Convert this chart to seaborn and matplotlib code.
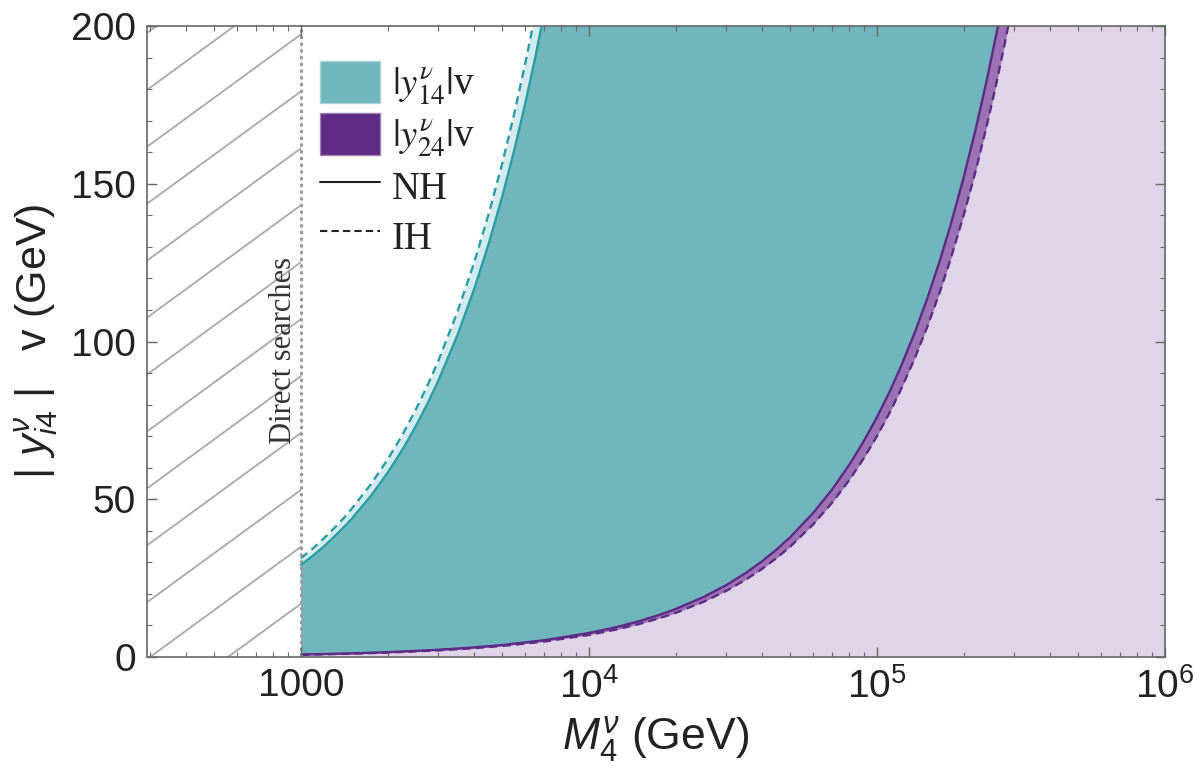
import numpy as np
import pandas as pd
import matplotlib
matplotlib.use('Agg')
import matplotlib.pyplot as plt
import seaborn as sns
from matplotlib.patches import Rectangle, Patch
from matplotlib.lines import Line2D
from matplotlib.ticker import FixedLocator, FuncFormatter, LogLocator, MultipleLocator, NullFormatter

# |y14| v bounds (teal), NH solid / IH dashed
m_y14_nh = [1000, 1100, 1200, 1300, 1400, 1500, 1750, 2000, 2250, 2500, 2750, 3000,
            3500, 4000, 4500, 5000, 5500, 6000, 6500, 7000, 7500]
y14_nh = [29.2, 32.1, 35.0, 38.0, 40.9, 43.8, 51.1, 58.4, 65.7, 73.0, 80.3, 87.6,
          102.2, 116.8, 131.4, 146.0, 160.6, 175.2, 189.8, 204.4, 219.0]
m_y14_ih = [1000, 1100, 1200, 1300, 1400, 1500, 1750, 2000, 2250, 2500, 2750, 3000,
            3500, 4000, 4500, 5000, 5500, 6000, 6500, 7000]
y14_ih = [31.3, 34.4, 37.6, 40.7, 43.8, 47.0, 54.8, 62.6, 70.4, 78.3, 86.1, 93.9,
          109.6, 125.2, 140.9, 156.5, 172.2, 187.8, 203.5, 219.1]

# |y24| v bounds (purple), NH solid / IH dashed
m_y24_nh = [1000, 1500, 2000, 3000, 4000, 5000, 7000, 1e4, 1.25e4, 1.5e4, 1.75e4, 2e4,
            2.5e4, 3e4, 3.5e4, 4e4, 4.5e4, 5e4, 6e4, 7e4, 8e4, 9e4, 1e5, 1.1e5, 1.2e5,
            1.35e5, 1.5e5, 1.65e5, 1.8e5, 2e5, 2.2e5, 2.4e5, 2.6e5, 2.8e5]
y24_nh = [0.76, 1.14, 1.52, 2.28, 3.04, 3.8, 5.32, 7.6, 9.5, 11.4, 13.3, 15.2,
          19.0, 22.8, 26.6, 30.4, 34.2, 38.0, 45.6, 53.2, 60.8, 68.4, 76.0, 83.6, 91.2,
          102.6, 114.0, 125.4, 136.8, 152.0, 167.2, 182.4, 197.6, 212.8]
m_y24_ih = [1000, 1500, 2000, 3000, 4000, 5000, 7000, 1e4, 1.25e4, 1.5e4, 1.75e4, 2e4,
            2.5e4, 3e4, 3.5e4, 4e4, 4.5e4, 5e4, 6e4, 7e4, 8e4, 9e4, 1e5, 1.1e5, 1.2e5,
            1.35e5, 1.5e5, 1.65e5, 1.8e5, 2e5, 2.2e5, 2.4e5, 2.6e5, 2.8e5, 3e5]
y24_ih = [0.70, 1.05, 1.40, 2.10, 2.80, 3.50, 4.90, 7.0, 8.75, 10.5, 12.25, 14.0,
          17.5, 21.0, 24.5, 28.0, 31.5, 35.0, 42.0, 49.0, 56.0, 63.0, 70.0, 77.0, 84.0,
          94.5, 105.0, 115.5, 126.0, 140.0, 154.0, 168.0, 182.0, 196.0, 210.0]

direct_limit = 1000
x_min, x_max = 292, 1e6
y_max = 200

teal_line = '#2a9ca3'
teal_fill = '#72b6bd'
teal_light = '#d3ebee'
purple_line = '#5a2a85'
purple_band = '#9b73b4'
purple_dark = '#5e2a83'
lavender = '#e0d5e8'

sns.set_theme(style='ticks')
plt.rcParams['font.family'] = ['Liberation Sans', 'DejaVu Sans']
plt.rcParams['mathtext.fontset'] = 'custom'
plt.rcParams['mathtext.rm'] = 'Liberation Sans'
plt.rcParams['mathtext.it'] = 'Liberation Sans:italic'
plt.rcParams['mathtext.bf'] = 'Liberation Sans:bold'

fig = plt.figure(figsize=(12, 7.84), dpi=100)
ax = fig.add_axes([0.1225, 0.162, 0.8483, 0.8048])
ax.set_xscale('log')
ax.set_xlim(x_min, x_max)
ax.set_ylim(0, y_max)

# filled regions, back to front
ax.axvspan(direct_limit, x_max, color=lavender, lw=0, zorder=1)
ax.fill_between(m_y24_ih, y24_ih, y_max, color=purple_band, lw=0, zorder=1.2)
ax.fill_between(m_y24_nh, y24_nh, y_max, color=teal_fill, lw=0, zorder=1.4)
ax.fill_between(m_y14_nh, y14_nh, y_max, color=teal_light, lw=0, zorder=1.6)
ax.fill_between(m_y14_ih, y14_ih, y_max, color='white', lw=0, zorder=1.8)

# boundary curves
curves = [
    (m_y14_nh, y14_nh, teal_line, '-'),
    (m_y14_ih, y14_ih, teal_line, (0, (3.5, 2.2))),
    (m_y24_nh, y24_nh, purple_line, '-'),
    (m_y24_ih, y24_ih, purple_line, (0, (3.5, 2.2))),
]
for m, y, c, ls in curves:
    df = pd.DataFrame({'M': m, 'y': y})
    sns.lineplot(data=df, x='M', y='y', ax=ax, color=c, lw=1.7, linestyle=ls,
                 estimator=None, sort=False, zorder=3)

# hatched excluded region
clip = Rectangle((x_min, 0), direct_limit - x_min, y_max, transform=ax.transData,
                 facecolor='none', edgecolor='none')
ax.add_patch(clip)
slope = 1.178
for k in range(-12, 3):
    x0 = 0.003 + k * 0.0766
    ln, = ax.plot([x0, x0 + 1], [0, slope], transform=ax.transAxes,
                  color='#a8a8a8', lw=1.3, zorder=2)
    ln.set_clip_path(clip)

ax.axvline(direct_limit, color='#9a9a9a', ls=(0, (1, 1.2)), lw=2.2, zorder=4)
ax.annotate('Direct searches', xy=(direct_limit, 97), xytext=(-2, 0),
            textcoords='offset points', rotation=90, ha='right', va='center',
            family='Liberation Serif', fontsize=22, color='#333333', zorder=5)

# axes styling
ax.xaxis.set_major_locator(FixedLocator([1e3, 1e4, 1e5, 1e6]))
ax.xaxis.set_minor_locator(LogLocator(base=10, subs=np.arange(2, 10)))
ax.xaxis.set_major_formatter(FuncFormatter(
    lambda v, p: '1000' if v == 1000 else r'$10^{%d}$' % round(np.log10(v))))
ax.xaxis.set_minor_formatter(NullFormatter())
ax.yaxis.set_major_locator(MultipleLocator(50))
ax.yaxis.set_minor_locator(MultipleLocator(10))
ax.tick_params(which='both', direction='in', top=True, right=True,
               color='#666666', labelcolor='#222222')
ax.tick_params(which='major', length=7, width=1, labelsize=28, pad=8)
ax.tick_params(which='minor', length=3.5, width=0.8)
for sp in ax.spines.values():
    sp.set_color('#666666')
    sp.set_linewidth(1.2)
    sp.set_zorder(10)
ax.xaxis.set_zorder(10)
ax.yaxis.set_zorder(10)

ax.set_xlabel(r'$M_4^{\nu}$ (GeV)', fontsize=32, color='#222222', labelpad=6)
ax.set_ylabel(r'$|\ y^{\nu}_{i4}\ |$   v (GeV)', fontsize=31, color='#222222', labelpad=8)

handles = [
    Patch(facecolor=teal_fill, edgecolor='#a8d3d6', label=r'$|y^{\nu}_{14}|$v'),
    Patch(facecolor=purple_dark, edgecolor='#9b80b0', label=r'$|y^{\nu}_{24}|$v'),
    Line2D([], [], color='#222222', lw=1.5, label='NH'),
    Line2D([], [], color='#222222', lw=1.5, ls=(0, (3.5, 2)), label='IH'),
]
leg = ax.legend(handles=handles, loc='upper left', bbox_to_anchor=(0.17, 0.945),
                frameon=False, prop={'family': 'Liberation Serif', 'size': 28},
                handlelength=1.55, handleheight=1.3, labelspacing=0.15,
                handletextpad=0.3, borderpad=0, borderaxespad=0)
leg.set_zorder(6)
for t in leg.get_texts():
    t.set_math_fontfamily('stix')
    t.set_color('#222222')

fig.savefig('out.png', dpi=100)
